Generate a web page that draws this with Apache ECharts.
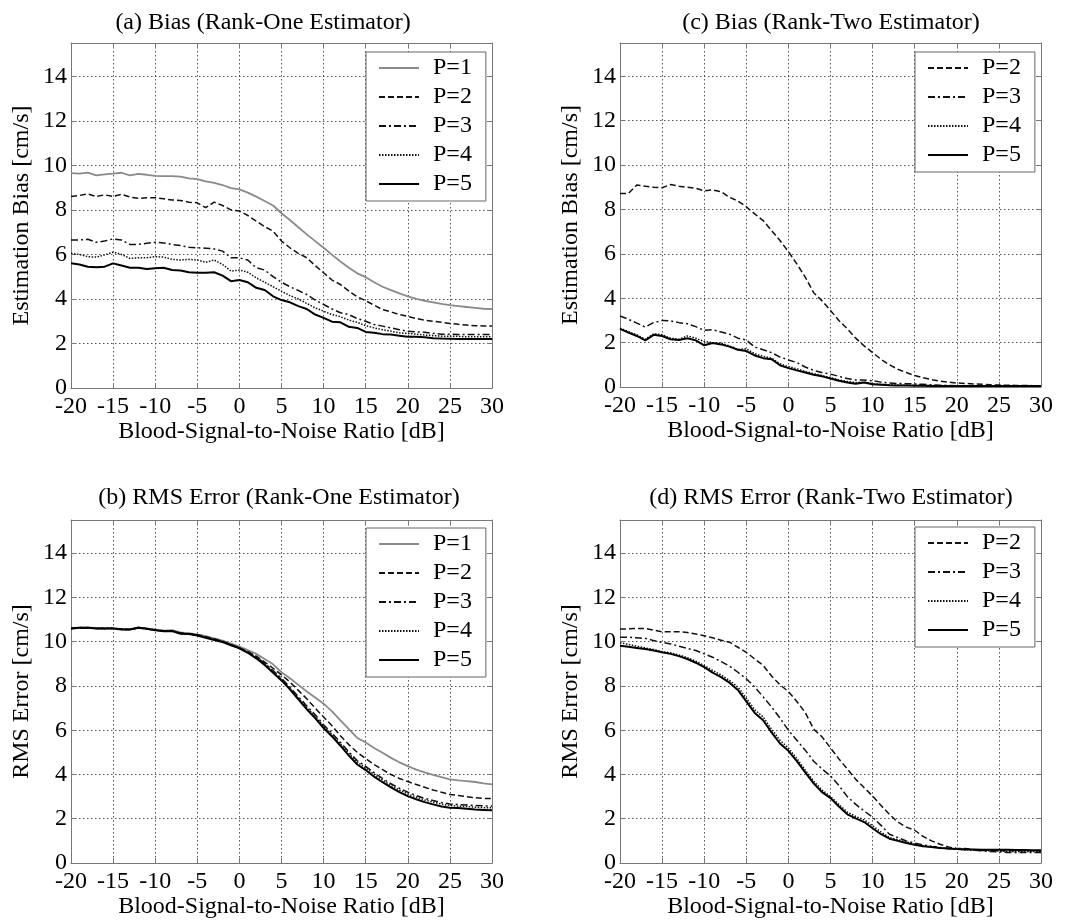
<!DOCTYPE html>
<html>
<head>
<meta charset="utf-8">
<script src="https://cdn.jsdelivr.net/npm/echarts@6/dist/echarts.min.js"></script>
<style>
html,body{margin:0;padding:0;background:#fff;}
#chart{width:1068px;height:920px;}
</style>
</head>
<body>
<div id="chart"></div>
<script>
// ---- data ----
var snr = [-20,-19,-18,-17,-16,-15,-14,-13,-12,-11,-10,-9,-8,-7,-6,-5,-4,-3,-2,-1,0,1,2,3,4,5,6,7,8,9,10,11,12,13,14,15,16,17,18,19,20,21,22,23,24,25,26,27,28,29,30];

// (a) Bias, Rank-One
var aP1 = [9.65,9.63,9.68,9.55,9.6,9.63,9.67,9.55,9.62,9.58, 9.53,9.52,9.52,9.5,9.42,9.38,9.28,9.22,9.12,8.98, 8.92,8.78,8.6,8.4,8.2,7.85,7.55,7.22,6.9,6.6, 6.3,5.98,5.68,5.4,5.15,4.98,4.75,4.55,4.4,4.25, 4.12,4.0,3.92,3.85,3.78,3.72,3.68,3.64,3.6,3.56, 3.54];
var aP2 = [8.6,8.65,8.72,8.6,8.68,8.6,8.7,8.58,8.52,8.55, 8.55,8.5,8.45,8.42,8.35,8.32,8.1,8.35,8.2,8.0, 7.95,7.75,7.5,7.25,7.05,6.6,6.3,6.05,5.85,5.5, 5.18,4.85,4.65,4.35,4.1,3.92,3.72,3.52,3.42,3.3, 3.22,3.12,3.05,3.0,2.95,2.9,2.86,2.83,2.8,2.79, 2.78];
var aP3 = [6.65,6.65,6.68,6.55,6.6,6.7,6.65,6.45,6.45,6.5, 6.55,6.52,6.45,6.4,6.32,6.3,6.28,6.25,6.15,5.85, 5.85,5.75,5.4,5.3,5.0,4.75,4.55,4.38,4.2,3.95, 3.75,3.55,3.38,3.3,3.12,3.0,2.85,2.78,2.7,2.62, 2.55,2.52,2.5,2.45,2.42,2.42,2.4,2.4,2.4,2.4, 2.4];
var aP4 = [6.05,6.0,5.9,5.88,5.98,6.1,6.0,5.82,5.85,5.85, 5.9,5.88,5.78,5.75,5.78,5.75,5.65,5.75,5.55,5.25, 5.3,5.2,4.95,4.75,4.55,4.35,4.15,4.0,3.8,3.6, 3.45,3.3,3.2,3.05,2.95,2.8,2.7,2.62,2.55,2.48, 2.45,2.42,2.38,2.35,2.33,2.32,2.32,2.3,2.3,2.3, 2.3];
var aP5 = [5.6,5.55,5.45,5.42,5.45,5.6,5.5,5.4,5.4,5.35, 5.38,5.4,5.3,5.28,5.2,5.18,5.18,5.2,5.05,4.8, 4.85,4.75,4.5,4.4,4.12,3.95,3.85,3.68,3.55,3.3, 3.15,2.98,2.95,2.75,2.7,2.52,2.48,2.42,2.4,2.35, 2.3,2.3,2.28,2.24,2.22,2.21,2.2,2.2,2.2,2.2, 2.2];

// (c) Bias, Rank-Two
var cP2 = [8.72,8.72,9.1,9.05,9.0,8.98,9.12,9.05,9.0,8.95, 8.84,8.88,8.8,8.55,8.38,8.12,7.8,7.5,7.05,6.6, 6.1,5.55,4.95,4.25,3.88,3.45,3.0,2.62,2.2,1.85, 1.55,1.25,1.0,0.8,0.65,0.52,0.42,0.33,0.26,0.22, 0.18,0.16,0.14,0.12,0.1,0.09,0.08,0.07,0.07,0.06, 0.06];
var cP3 = [3.2,3.05,2.88,2.7,2.9,3.0,2.98,2.9,2.85,2.72, 2.55,2.58,2.48,2.38,2.2,2.12,1.8,1.68,1.55,1.35, 1.22,1.1,0.9,0.75,0.65,0.58,0.48,0.38,0.32,0.32, 0.28,0.22,0.18,0.16,0.15,0.14,0.12,0.1,0.08,0.07, 0.06,0.06,0.05,0.05,0.05,0.05,0.05,0.05,0.05,0.05, 0.05];
var cP4 = [2.65,2.5,2.35,2.15,2.4,2.35,2.2,2.15,2.3,2.2, 2.05,2.0,1.98,1.85,1.7,1.72,1.5,1.38,1.3,1.05, 0.92,0.82,0.7,0.6,0.52,0.42,0.32,0.25,0.2,0.22, 0.15,0.12,0.1,0.09,0.08,0.08,0.07,0.07,0.06,0.06, 0.05,0.05,0.05,0.05,0.05,0.05,0.05,0.05,0.05,0.05, 0.05];
var cP5 = [2.62,2.45,2.3,2.1,2.35,2.3,2.15,2.12,2.2,2.1, 1.88,1.98,1.92,1.82,1.68,1.62,1.42,1.3,1.25,0.98, 0.85,0.75,0.65,0.55,0.48,0.38,0.28,0.2,0.15,0.2, 0.12,0.1,0.08,0.07,0.07,0.06,0.06,0.05,0.05,0.05, 0.05,0.04,0.04,0.04,0.04,0.04,0.04,0.04,0.04,0.04, 0.04];

// (b) RMS Error, Rank-One
var bP1 = [10.62,10.63,10.63,10.62,10.6,10.6,10.58,10.57,10.65,10.6, 10.55,10.5,10.52,10.42,10.38,10.33,10.25,10.15,10.05,9.92, 9.78,9.62,9.45,9.22,8.98,8.62,8.35,8.05,7.75,7.48, 7.2,6.85,6.45,6.05,5.65,5.45,5.2,4.98,4.75,4.55, 4.38,4.22,4.1,3.98,3.88,3.78,3.73,3.7,3.66,3.6, 3.55];
var bP2 = [10.6,10.64,10.62,10.6,10.61,10.6,10.57,10.55,10.64,10.6, 10.54,10.5,10.5,10.4,10.37,10.32,10.23,10.13,10.02,9.88, 9.72,9.55,9.35,9.08,8.8,8.5,8.18,7.8,7.42,7.0, 6.6,6.2,5.75,5.35,5.0,4.72,4.45,4.22,4.0,3.82, 3.68,3.55,3.42,3.3,3.2,3.1,3.05,3.0,2.95,2.92, 2.92];
var bP3 = [10.6,10.62,10.64,10.6,10.6,10.62,10.56,10.55,10.62,10.58, 10.53,10.48,10.5,10.38,10.36,10.3,10.2,10.1,10.0,9.86, 9.73,9.55,9.3,9.03,8.7,8.35,7.95,7.52,7.1,6.7, 6.25,5.87,5.45,5.02,4.62,4.37,4.08,3.82,3.58,3.38, 3.2,3.05,2.92,2.82,2.73,2.67,2.64,2.62,2.6,2.58, 2.57];
var bP4 = [10.58,10.62,10.62,10.6,10.59,10.6,10.55,10.54,10.62,10.58, 10.52,10.48,10.49,10.37,10.35,10.3,10.2,10.1,10.0,9.85, 9.72,9.52,9.28,9.0,8.65,8.3,7.9,7.46,7.02,6.62, 6.18,5.8,5.38,4.95,4.55,4.3,4.0,3.75,3.5,3.3, 3.12,2.98,2.85,2.75,2.66,2.6,2.57,2.55,2.52,2.5, 2.5];
var bP5 = [10.6,10.63,10.63,10.6,10.6,10.6,10.55,10.55,10.63,10.58, 10.52,10.47,10.48,10.36,10.35,10.28,10.18,10.08,9.98,9.84, 9.7,9.5,9.25,8.95,8.6,8.25,7.85,7.4,6.95,6.55, 6.1,5.72,5.3,4.85,4.45,4.2,3.9,3.65,3.42,3.2, 3.02,2.88,2.75,2.65,2.55,2.5,2.48,2.45,2.42,2.4, 2.38];

// (d) RMS Error, Rank-Two
var dP2 = [10.57,10.58,10.6,10.6,10.52,10.45,10.45,10.45,10.42,10.35, 10.27,10.18,10.07,9.98,9.75,9.52,9.22,8.93,8.45,8.05, 7.75,7.3,6.8,6.05,5.7,5.2,4.7,4.25,3.78,3.4, 3.03,2.6,2.2,1.85,1.62,1.48,1.2,1.0,0.85,0.72, 0.66,0.65,0.6,0.58,0.57,0.56,0.55,0.55,0.55,0.55, 0.55];
var dP3 = [10.2,10.2,10.18,10.15,10.05,9.97,9.9,9.8,9.7,9.6, 9.45,9.3,9.1,8.9,8.62,8.33,7.95,7.51,7.05,6.55, 6.0,5.55,5.1,4.6,4.25,3.93,3.5,3.0,2.65,2.35, 2.07,1.7,1.3,1.15,1.0,0.9,0.82,0.75,0.7,0.65, 0.63,0.6,0.58,0.55,0.52,0.5,0.48,0.48,0.48,0.48, 0.48];
var dP4 = [9.95,9.88,9.8,9.72,9.65,9.55,9.5,9.4,9.28,9.12, 8.92,8.7,8.5,8.25,7.95,7.45,6.92,6.6,6.05,5.55, 5.2,4.72,4.2,3.7,3.3,3.0,2.65,2.3,2.1,1.95, 1.68,1.4,1.15,1.05,0.95,0.85,0.78,0.72,0.68,0.65, 0.62,0.6,0.58,0.56,0.55,0.54,0.53,0.52,0.52,0.52, 0.52];
var dP5 = [9.82,9.77,9.72,9.67,9.6,9.52,9.45,9.35,9.22,9.05, 8.85,8.6,8.4,8.15,7.82,7.3,6.78,6.45,5.9,5.4, 5.07,4.6,4.1,3.6,3.2,2.93,2.55,2.2,2.02,1.85, 1.57,1.3,1.1,1.0,0.9,0.82,0.76,0.72,0.68,0.65, 0.63,0.62,0.61,0.6,0.6,0.6,0.6,0.59,0.59,0.58, 0.58];

var titles = ['(a) Bias (Rank-One Estimator)', '(c) Bias (Rank-Two Estimator)', '(b) RMS Error (Rank-One Estimator)', '(d) RMS Error (Rank-Two Estimator)'];
var yNames = ['Estimation Bias [cm/s]', 'Estimation Bias [cm/s]', 'RMS Error [cm/s]', 'RMS Error [cm/s]'];
var xName = 'Blood-Signal-to-Noise Ratio [dB]';
var legend1 = ['P=1','P=2','P=3','P=4','P=5'];
var legend2 = ['P=2','P=3','P=4','P=5'];

// ---- layout / styles ----
var FONT = '"Liberation Serif", "DejaVu Serif", serif';
var grids = [
  {left: 71, top: 43, width: 421, height: 345},
  {left: 620, top: 43, width: 421, height: 344},
  {left: 71, top: 520, width: 421, height: 343},
  {left: 620, top: 520, width: 421, height: 343}
];
var titlePos = [{x: 258, y: 6}, {x: 826, y: 6}, {x: 274, y: 481}, {x: 826, y: 481}];
var legendPos = [{x: 366, y: 52}, {x: 915, y: 52}, {x: 366, y: 528}, {x: 915, y: 527}];
var styles = {
  'P=1': {color: '#8a8a8a', type: 'solid', width: 1.8},
  'P=2': {color: '#111', type: [6, 3], width: 1.5},
  'P=3': {color: '#111', type: [7, 3, 2, 3], width: 1.5},
  'P=4': {color: '#111', type: [1.5, 1.5], width: 1.5},
  'P=5': {color: '#000', type: 'solid', width: 2}
};
var panels = [
  {names: legend1, data: [aP1, aP2, aP3, aP4, aP5]},
  {names: legend2, data: [cP2, cP3, cP4, cP5]},
  {names: legend1, data: [bP1, bP2, bP3, bP4, bP5]},
  {names: legend2, data: [dP2, dP3, dP4, dP5]}
];

var AXC = '#777';
var xAxes = [], yAxes = [], series = [], title = [], legend = [];
grids.forEach(function (g, i) {
  xAxes.push({
    type: 'value', gridIndex: i, min: -20, max: 30, interval: 5,
    name: xName, nameLocation: 'middle', nameGap: 28,
    nameTextStyle: {fontFamily: FONT, fontSize: 24, color: '#000'},
    axisLine: {show: true, onZero: false, lineStyle: {color: AXC, width: 1}},
    axisTick: {show: true, inside: true, length: 5, lineStyle: {color: AXC}},
    axisLabel: {fontFamily: FONT, fontSize: 24, color: '#000', margin: 7},
    splitLine: {show: true, lineStyle: {color: '#555', type: [1.5, 2.5], width: 1}}
  });
  yAxes.push({
    type: 'value', gridIndex: i, min: 0, max: 15.5, interval: 2,
    name: yNames[i], nameLocation: 'middle', nameGap: 37, nameRotate: 90,
    nameTextStyle: {fontFamily: FONT, fontSize: 24, color: '#000'},
    axisLine: {show: true, onZero: false, lineStyle: {color: AXC, width: 1}},
    axisTick: {show: true, inside: true, length: 5, lineStyle: {color: AXC}},
    axisLabel: {fontFamily: FONT, fontSize: 24, color: '#000', margin: 4,
      formatter: function (v) { return (v % 2 === 0) ? String(v) : ''; }},
    splitLine: {show: true, lineStyle: {color: '#555', type: [1.5, 2.5], width: 1}}
  });
  title.push({
    text: titles[i], left: titlePos[i].x, top: titlePos[i].y, textAlign: 'center',
    textStyle: {fontFamily: FONT, fontSize: 24, fontWeight: 'normal', color: '#000'}
  });
  legend.push({
    data: panels[i].names, left: legendPos[i].x, top: legendPos[i].y,
    orient: 'vertical', selectedMode: false,
    backgroundColor: '#fff', borderColor: '#666', borderWidth: 1,
    padding: [4, 14, 5, 12], itemGap: 5, itemWidth: 40, itemHeight: 22,
    itemStyle: {color: 'rgba(0,0,0,0)', borderWidth: 0, opacity: 0},
    textStyle: {fontFamily: FONT, fontSize: 24, color: '#000', lineHeight: 22, padding: [0, 0, 0, 9]}
  });
  panels[i].data.forEach(function (arr, k) {
    var nm = panels[i].names[k];
    var st = styles[nm];
    series.push({
      type: 'line', name: nm, xAxisIndex: i, yAxisIndex: i,
      showSymbol: false, symbol: 'none', silent: true, z: 3 + k,
      lineStyle: {color: st.color, type: st.type, width: st.width},
      itemStyle: {color: st.color},
      data: snr.map(function (x, j) { return [x, arr[j]]; })
    });
  });
});
// mirror axes (top/right) for box ticks
grids.forEach(function (g, i) {
  xAxes.push({
    type: 'value', gridIndex: i, min: -20, max: 30, interval: 5, position: 'top',
    axisLine: {show: true, onZero: false, lineStyle: {color: AXC}},
    axisTick: {show: true, inside: true, length: 5, lineStyle: {color: AXC}},
    axisLabel: {show: false}, splitLine: {show: false}
  });
  yAxes.push({
    type: 'value', gridIndex: i, min: 0, max: 15.5, interval: 2, position: 'right',
    axisLine: {show: true, onZero: false, lineStyle: {color: AXC}},
    axisTick: {show: true, inside: true, length: 5, lineStyle: {color: AXC}},
    axisLabel: {show: false}, splitLine: {show: false}
  });
});

var chart = echarts.init(document.getElementById('chart'));
chart.setOption({
  animation: false,
  backgroundColor: '#fff',
  title: title,
  legend: legend,
  grid: grids.map(function (g) { return Object.assign({containLabel: false}, g); }),
  xAxis: xAxes,
  yAxis: yAxes,
  series: series
});
</script>
</body>
</html>
